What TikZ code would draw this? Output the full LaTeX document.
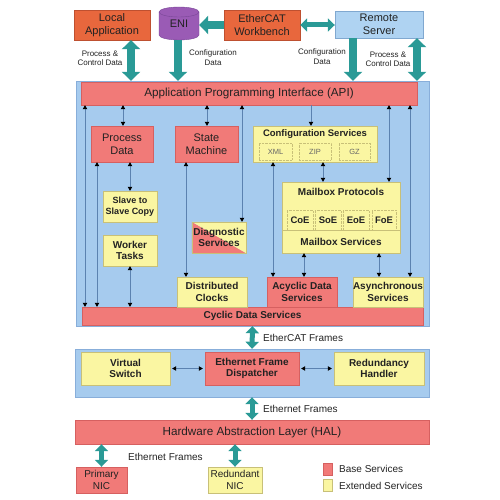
\documentclass[tikz,border=0pt]{standalone}
\usepackage{fontspec}
\setmainfont{Liberation Sans}
\usetikzlibrary{arrows.meta}
\definecolor{basefill}{RGB}{241,122,120}
\definecolor{baseline}{RGB}{214,96,96}
\definecolor{extfill}{RGB}{250,246,162}
\definecolor{extline}{RGB}{200,192,120}
\definecolor{panelfill}{RGB}{166,203,238}
\definecolor{panelline}{RGB}{136,174,218}
\definecolor{orangefill}{RGB}{232,103,61}
\definecolor{orangeline}{RGB}{190,80,48}
\definecolor{serverfill}{RGB}{175,211,242}
\definecolor{serverline}{RGB}{128,168,208}
\definecolor{enifill}{RGB}{154,91,181}
\definecolor{eniline}{RGB}{120,70,150}
\definecolor{teal}{RGB}{42,154,150}
\definecolor{linkc}{RGB}{91,130,176}
\definecolor{txt}{RGB}{34,34,34}
\begin{document}
\begin{tikzpicture}[x=1pt,y=-1pt,
  every node/.style={text=txt, align=center, inner sep=0pt},
  basebox/.style={draw=baseline, fill=basefill, font=\fontsize{11}{12.8}\selectfont},
  basebold/.style={draw=baseline, fill=basefill, font=\bfseries\fontsize{10}{11.5}\selectfont},
  extbox/.style={draw=extline, fill=extfill, font=\bfseries\fontsize{10}{11.5}\selectfont},
  topbox/.style={draw=orangeline, fill=orangefill, font=\fontsize{11}{12.8}\selectfont},
  panel/.style={draw=panelline, fill=panelfill},
  subbox/.style={draw=extline, densely dotted, font=\fontsize{7.5}{9}\selectfont, text=black!60},
  mbsub/.style={draw=extline, densely dotted, font=\bfseries\fontsize{9.5}{11}\selectfont},
  smalllab/.style={font=\fontsize{8}{9.5}\selectfont},
  lab/.style={font=\fontsize{10}{11.5}\selectfont},
  bigarrow/.style={draw=teal, line width=8pt},
  midarrow/.style={draw=teal, line width=5pt},
  link/.style={draw=linkc, line width=0.7pt,
    {Triangle[length=4pt,width=4.5pt,color=black]}-{Triangle[length=4pt,width=4.5pt,color=black]}},
  linkone/.style={draw=linkc, line width=0.7pt,
    -{Triangle[length=4pt,width=4.5pt,color=black]}},
]
\useasboundingbox (0,0) rectangle (500,500);
\tikzset{
  bigtip/.tip={Triangle[length=9pt,width=18pt]},
  midtip/.tip={Triangle[length=7pt,width=13pt]}
}
% ---------- top row
\node[topbox, minimum width=76, minimum height=30] (local) at (112,25) {Local\\Application};
\node[topbox, minimum width=76, minimum height=30] (wb) at (262,25) {EtherCAT\\Workbench};
\node[draw=serverline, fill=serverfill, font=\fontsize{11}{12.8}\selectfont, minimum width=88, minimum height=27] (server) at (379,24.5) {Remote\\Server};
% ENI cylinder
\filldraw[draw=eniline, fill=enifill] (159,12) -- (159,35) arc (180:0:20 and 5) -- (199,12) arc (0:-180:20 and 5) -- cycle;
\draw[eniline] (159,12) arc (180:0:20 and 5);
\node[font=\fontsize{11}{12.8}\selectfont, minimum width=40, minimum height=33] (eni) at (179,23.5) {\raisebox{-4pt}{ENI}};

% ---------- core panel
\node[panel, minimum width=353, minimum height=245] (core) at (252.5,203.5) {};
\node[basebox, font=\fontsize{11.7}{13.5}\selectfont, minimum width=336, minimum height=23] (api) at (249,93.5) {Application Programming Interface (API)};
\node[basebold, minimum width=341, minimum height=18] (cyclic) at (252.5,316) {Cyclic Data Services};

\node[basebox, minimum width=62, minimum height=36] (pd) at (122,144) {Process\\Data};
\node[basebox, minimum width=63, minimum height=36] (sm) at (206.5,144) {State\\Machine};
\node[extbox, font=\bfseries\fontsize{9}{10.5}\selectfont, minimum width=54, minimum height=31] (s2s) at (130,206.5) {Slave to\\Slave Copy};
\node[extbox, minimum width=54, minimum height=31] (wt) at (130,250.5) {Worker\\Tasks};
% diagnostic, split base / extended
\node[minimum width=54, minimum height=31] (diag) at (219,237.5) {};
\fill[basefill] (diag.north west) -- (diag.south west) -- (diag.south east) -- cycle;
\fill[extfill] (diag.north west) -- (diag.north east) -- (diag.south east) -- cycle;
\draw[extline] (diag.north west) rectangle (diag.south east);
\node[font=\bfseries\fontsize{10}{11.5}\selectfont] (diagt) at (diag.center) {Diagnostic\\Services};
\node[extbox, minimum width=70, minimum height=30] (dc) at (212,292) {Distributed\\Clocks};

\node[extbox, minimum width=124, minimum height=36] (cfg) at (315,144) {};
\node[font=\bfseries\fontsize{9.5}{11}\selectfont] (cfgt) at (315,134) {Configuration Services};
\node[subbox, minimum width=33, minimum height=17] (xml) at (275.5,151.5) {XML};
\node[subbox, minimum width=32, minimum height=17] (zip) at (315,151.5) {ZIP};
\node[subbox, minimum width=31, minimum height=17] (gz) at (354.5,151.5) {GZ};

\node[extbox, minimum width=118, minimum height=71] (mbx) at (341,217.5) {};
\node[font=\bfseries\fontsize{10}{11.5}\selectfont] (mbxt) at (341,192) {Mailbox Protocols};
\node[mbsub, minimum width=26, minimum height=20] (coe) at (300,220) {CoE};
\node[mbsub, minimum width=26, minimum height=20] (soe) at (328,220) {SoE};
\node[mbsub, minimum width=26, minimum height=20] (eoe) at (356,220) {EoE};
\node[mbsub, minimum width=24, minimum height=20] (foe) at (384,220) {FoE};
\draw[extline] (mbx.west |- 0,230) -- (mbx.east |- 0,230);
\node[font=\bfseries\fontsize{10}{11.5}\selectfont] (mbxs) at (341,241.5) {Mailbox Services};

\node[basebold, minimum width=70, minimum height=30] (acy) at (302,292) {Acyclic Data\\Services};
\node[extbox, minimum width=70, minimum height=30] (asy) at (388,292) {Asynchronous\\Services};

% thin links
\draw[link] (85,0 |- api.south) -- (85,0 |- cyclic.north);
\draw[link] (97,0 |- pd.south) -- (97,0 |- cyclic.north);
\draw[link] (123,0 |- api.south) -- (123,0 |- pd.north);
\draw[link] (130,0 |- pd.south) -- (130,0 |- s2s.north);
\draw[link] (130,0 |- wt.south) -- (130,0 |- cyclic.north);
\draw[link] (207,0 |- api.south) -- (207,0 |- sm.north);
\draw[link] (186,0 |- sm.south) -- (186,0 |- dc.north);
\draw[link] (242,0 |- api.south) -- (242,0 |- diag.north);
\draw[linkone] (311,0 |- api.south) -- (311,0 |- cfg.north);
\draw[link] (273,0 |- cfg.south) -- (273,0 |- acy.north);
\draw[link] (323,0 |- cfg.south) -- (323,0 |- mbx.north);
\draw[link] (389,0 |- api.south) -- (389,0 |- mbx.north);
\draw[link] (410,0 |- api.south) -- (410,0 |- asy.north);
\draw[link] (304,0 |- mbx.south) -- (304,0 |- acy.north);
\draw[link] (379,0 |- mbx.south) -- (379,0 |- asy.north);

% ---------- middle panel
\node[panel, minimum width=354, minimum height=48] (mid) at (252,373) {};
\node[extbox, minimum width=89, minimum height=33] (vs) at (125.5,368.5) {Virtual\\Switch};
\node[basebold, minimum width=94, minimum height=33] (efd) at (252,368.5) {Ethernet Frame\\Dispatcher};
\node[extbox, minimum width=90, minimum height=33] (rh) at (379,368.5) {Redundancy\\Handler};
\draw[link, shorten <=2pt, shorten >=2pt] (vs.east) -- (efd.west);
\draw[link, shorten <=2pt, shorten >=2pt] (efd.east) -- (rh.west);

% ---------- HAL
\node[basebox, font=\fontsize{11.7}{13.5}\selectfont, minimum width=354, minimum height=24] (hal) at (252,432) {Hardware Abstraction Layer (HAL)};
\node[basebox, font=\fontsize{10}{11.5}\selectfont, minimum width=51, minimum height=26] (pnic) at (101.5,480) {Primary\\NIC};
\node[draw=extline, fill=extfill, font=\fontsize{10}{11.5}\selectfont, minimum width=54, minimum height=26] (rnic) at (235,480) {Redundant\\NIC};

% ---------- teal arrows
\draw[bigarrow, bigtip-bigtip] (131,0 |- local.south) -- (131,0 |- core.north);
\draw[bigarrow, -bigtip] (178,0 |- eni.south) -- (178,0 |- core.north);
\draw[bigarrow, -bigtip] (353,0 |- server.south) -- (353,0 |- core.north);
\draw[bigarrow, bigtip-bigtip] (417,0 |- server.south) -- (417,0 |- core.north);
\draw[bigarrow, -bigtip] (wb.west) -- (eni.east |- wb.west);
\draw[midarrow, midtip-midtip] (wb.east) -- (server.west |- wb.east);
\draw[midarrow, midtip-midtip] (core.south) -- (mid.north);
\draw[midarrow, midtip-midtip] (mid.south) -- (hal.north);
\draw[midarrow, midtip-midtip] (pnic.north |- hal.south) -- (pnic.north);
\draw[midarrow, midtip-midtip] (rnic.north |- hal.south) -- (rnic.north);

% ---------- labels
\node[smalllab] (l1) at (100,58.5) {Process \&\\Control Data};
\node[smalllab] (l2) at (213,57.5) {Configuration\\Data};
\node[smalllab] (l3) at (322,56.5) {Configuration\\Data};
\node[smalllab] (l4) at (388,59.5) {Process \&\\Control Data};
\node[lab, anchor=west] (l5) at (263,338) {EtherCAT Frames};
\node[lab, anchor=west] (l6) at (263,409) {Ethernet Frames};
\node[lab, anchor=west] (l7) at (128,457) {Ethernet Frames};

% ---------- legend
\node[draw=baseline, fill=basefill, minimum width=9, minimum height=12] (lgb) at (327.5,469) {};
\node[lab, anchor=west] (lgbt) at (339,469) {Base Services};
\node[draw=extline, fill=extfill, minimum width=9, minimum height=12] (lge) at (327.5,485.5) {};
\node[lab, anchor=west] (lget) at (339,485.5) {Extended Services};
\end{tikzpicture}
\end{document}
